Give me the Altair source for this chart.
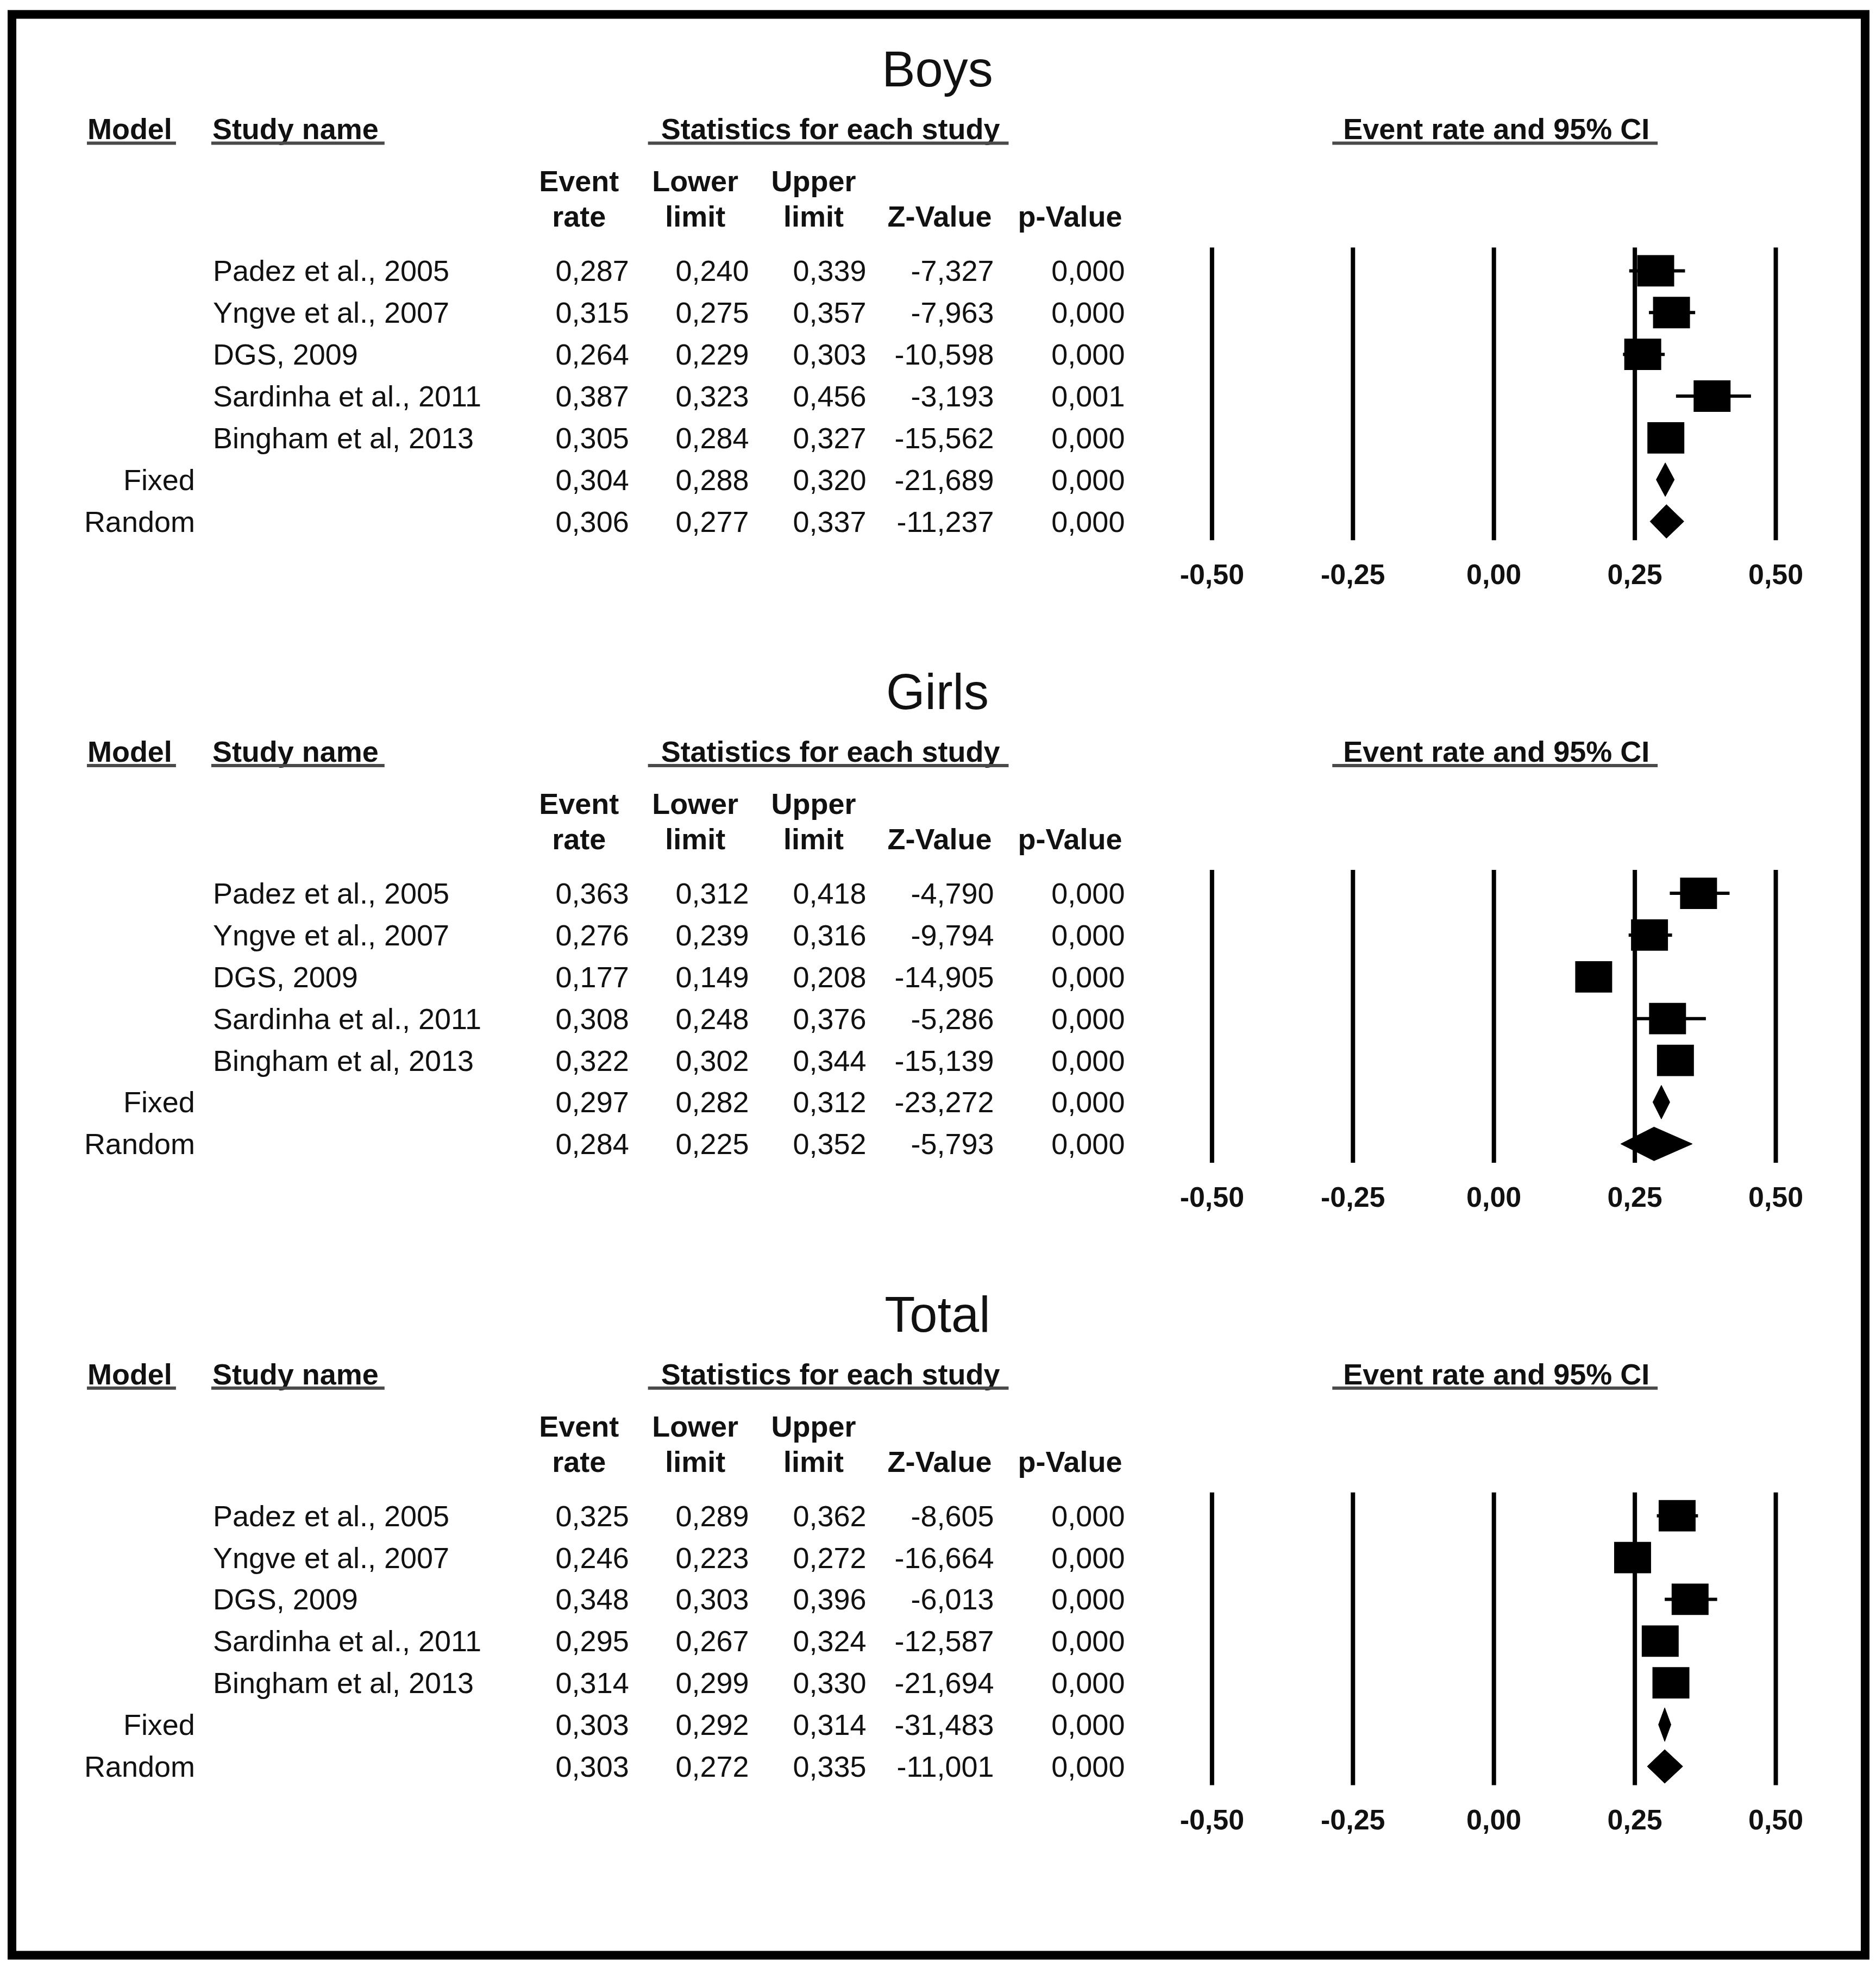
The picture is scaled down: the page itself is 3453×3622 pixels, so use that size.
import altair as alt
import pandas as pd

# ---------------- data ----------------
PANELS = ["Boys", "Girls", "Total"]
STUDIES = ["Padez et al., 2005", "Yngve et al., 2007", "DGS, 2009",
           "Sardinha et al., 2011", "Bingham et al, 2013"]
MODELS = ["Fixed", "Random"]

BOYS_ER = [0.287, 0.315, 0.264, 0.387, 0.305, 0.304, 0.306]
BOYS_LL = [0.240, 0.275, 0.229, 0.323, 0.284, 0.288, 0.277]
BOYS_UL = [0.339, 0.357, 0.303, 0.456, 0.327, 0.320, 0.337]
BOYS_Z = [-7.327, -7.963, -10.598, -3.193, -15.562, -21.689, -11.237]
BOYS_P = [0.000, 0.000, 0.000, 0.001, 0.000, 0.000, 0.000]

GIRLS_ER = [0.363, 0.276, 0.177, 0.308, 0.322, 0.297, 0.284]
GIRLS_LL = [0.312, 0.239, 0.149, 0.248, 0.302, 0.282, 0.225]
GIRLS_UL = [0.418, 0.316, 0.208, 0.376, 0.344, 0.312, 0.352]
GIRLS_Z = [-4.790, -9.794, -14.905, -5.286, -15.139, -23.272, -5.793]
GIRLS_P = [0.000, 0.000, 0.000, 0.000, 0.000, 0.000, 0.000]

TOTAL_ER = [0.325, 0.246, 0.348, 0.295, 0.314, 0.303, 0.303]
TOTAL_LL = [0.289, 0.223, 0.303, 0.267, 0.299, 0.292, 0.272]
TOTAL_UL = [0.362, 0.272, 0.396, 0.324, 0.330, 0.314, 0.335]
TOTAL_Z = [-8.605, -16.664, -6.013, -12.587, -21.694, -31.483, -11.001]
TOTAL_P = [0.000, 0.000, 0.000, 0.000, 0.000, 0.000, 0.000]

TICKS = [-0.50, -0.25, 0.00, 0.25, 0.50]

SERIES = {
    "Boys": (BOYS_ER, BOYS_LL, BOYS_UL, BOYS_Z, BOYS_P),
    "Girls": (GIRLS_ER, GIRLS_LL, GIRLS_UL, GIRLS_Z, GIRLS_P),
    "Total": (TOTAL_ER, TOTAL_LL, TOTAL_UL, TOTAL_Z, TOTAL_P),
}

# ---------------- layout ----------------
FRAME_LEFT, FRAME_TOP, FRAME_RIGHT, FRAME_BOTTOM = 22, 26, 3434, 3599
W = FRAME_RIGHT - FRAME_LEFT
H = FRAME_BOTTOM - FRAME_TOP
ROW_PX = 76.9
PANEL_PX = 1146.0
ROW1_Y = 498.0
PR = PANEL_PX / ROW_PX


def U(dy):
    return 1 + dy / ROW_PX


def X(img_x):
    return img_x - FRAME_LEFT


U_TOP = U(FRAME_TOP - ROW1_Y)
U_BOT = U(FRAME_BOTTOM - ROW1_Y)
OFF_TITLE = U(-372)
OFF_HEAD = U(-261)
OFF_LINE = U(-235)
OFF_H1 = U(-165)
OFF_H2 = U(-100)
OFF_GTOP = U(-43)
OFF_GBOT = U(496)
OFF_TICK = U(558)
DIAMOND_HALF = 31 / ROW_PX

FONT = "Liberation Sans, Arial, Helvetica, sans-serif"
FS = 54
TXT = "#111111"

xs = alt.Scale(domain=[-0.5, 0.5], range=[X(2231.5), X(3269.5)], nice=False, zero=False)
ys = alt.Scale(domain=[U_TOP, U_BOT], range=[0, H], nice=False, zero=False)


def fmt(v, d=3):
    return f"{v:.{d}f}".replace(".", ",")


# ---------------- tables ----------------
rows = []
for p, panel in enumerate(PANELS):
    er, ll, ul, z, pv = SERIES[panel]
    for i in range(7):
        rows.append(dict(
            panel=panel, u=p * PR + i + 1,
            name=STUDIES[i] if i < 5 else "",
            model=MODELS[i - 5] if i >= 5 else "",
            kind="study" if i < 5 else "summary",
            er=er[i], ll=ll[i], ul=ul[i],
            er_t=fmt(er[i]), ll_t=fmt(ll[i]), ul_t=fmt(ul[i]),
            z_t=fmt(z[i]), p_t=fmt(pv[i]), rid=f"{panel}{i}",
        ))
df = pd.DataFrame(rows)
studies_df = df[df.kind == "study"]
summ_df = df[df.kind == "summary"]

panels_df = pd.DataFrame([dict(panel=n, u_title=p * PR + OFF_TITLE, u_head=p * PR + OFF_HEAD,
                               u_line=p * PR + OFF_LINE, u_gt=p * PR + OFF_GTOP,
                               u_gb=p * PR + OFF_GBOT, u_tick=p * PR + OFF_TICK)
                          for p, n in enumerate(PANELS)])

Y = lambda f: alt.Y(f"{f}:Q", scale=ys, axis=None)
Xq = lambda f: alt.X(f"{f}:Q", scale=xs, axis=None)

layers = []

# titles
layers.append(alt.Chart(panels_df).mark_text(font=FONT, fontSize=92, align="center",
                                             baseline="middle", dy=5, color=TXT)
              .encode(x=alt.value(X(1726)), y=Y("u_title"), text="panel:N"))

# top headers
for label, ax, align in [("Model", 161, "left"), ("Study name", 391, "left"),
                         ("Statistics for each study", 1529, "center"),
                         ("Event rate and 95% CI", 2755, "center")]:
    layers.append(alt.Chart(panels_df).mark_text(text=label, font=FONT, fontSize=FS,
                                                 fontWeight="bold", align=align,
                                                 baseline="middle", dy=3, color=TXT)
                  .encode(x=alt.value(X(ax)), y=Y("u_head")))

# underlines
for a, b in [(160, 324), (389, 708), (1193, 1857), (2453, 3052)]:
    layers.append(alt.Chart(panels_df).mark_rule(color="#4a4a4a", strokeWidth=6)
                  .encode(x=alt.value(X(a)), x2=alt.value(X(b)), y=Y("u_line")))

# column headers
COLS = [("Event", "rate", 1066), ("Lower", "limit", 1280), ("Upper", "limit", 1498),
        ("", "Z-Value", 1730), ("", "p-Value", 1970)]
for l1, l2, cx in COLS:
    hd = []
    for p, n in enumerate(PANELS):
        if l1:
            hd.append(dict(u=p * PR + OFF_H1, t=l1))
        hd.append(dict(u=p * PR + OFF_H2, t=l2))
    layers.append(alt.Chart(pd.DataFrame(hd)).mark_text(font=FONT, fontSize=FS,
                                                        fontWeight="bold", align="center",
                                                        baseline="middle", dy=3, color=TXT)
                  .encode(x=alt.value(X(cx)), y=Y("u"), text="t:N"))

# study names and model labels
layers.append(alt.Chart(studies_df).mark_text(font=FONT, fontSize=FS, align="left",
                                              baseline="middle", dy=3, color=TXT)
              .encode(x=alt.value(X(392)), y=Y("u"), text="name:N"))
layers.append(alt.Chart(summ_df).mark_text(font=FONT, fontSize=FS, align="right",
                                           baseline="middle", dy=3, color=TXT)
              .encode(x=alt.value(X(359)), y=Y("u"), text="model:N"))

# numeric columns
for field, rx in [("er_t", 1158), ("ll_t", 1379), ("ul_t", 1595), ("z_t", 1830), ("p_t", 2071)]:
    layers.append(alt.Chart(df).mark_text(font=FONT, fontSize=FS, align="right",
                                          baseline="middle", dy=3, color=TXT)
                  .encode(x=alt.value(X(rx)), y=Y("u"), text=f"{field}:N"))

# forest: vertical reference lines
grid = pd.DataFrame([dict(v=t, u_gt=r.u_gt, u_gb=r.u_gb) for r in panels_df.itertuples() for t in TICKS])
layers.append(alt.Chart(grid).mark_rule(color="black", strokeWidth=8)
              .encode(x=Xq("v"), y=Y("u_gt"), y2="u_gb:Q"))

# CI whiskers
layers.append(alt.Chart(studies_df).mark_rule(color="black", strokeWidth=6)
              .encode(x=Xq("ll"), x2="ul:Q", y=Y("u")))

# squares
SQUARE = "M-1,-0.85L1,-0.85L1,0.85L-1,0.85Z"
layers.append(alt.Chart(studies_df).mark_point(shape=SQUARE, filled=True, size=68 * 68,
                                               color="black", opacity=1, strokeWidth=0)
              .encode(x=Xq("er"), y=Y("u")))

# diamonds (summary rows): polygon lower -> estimate -> upper, fixed half height
dia = []
for r in summ_df.itertuples():
    dia.append(dict(did=r.rid, pos=r.ll, top=r.u, bot=r.u))
    dia.append(dict(did=r.rid, pos=r.er, top=r.u - DIAMOND_HALF, bot=r.u + DIAMOND_HALF))
    dia.append(dict(did=r.rid, pos=r.ul, top=r.u, bot=r.u))
layers.append(alt.Chart(pd.DataFrame(dia)).mark_area(color="black", fillOpacity=1,
                                                     stroke="black", strokeWidth=1)
              .encode(x=Xq("pos"), y=alt.Y("top:Q", scale=ys, axis=None, stack=None),
                      y2="bot:Q", detail="did:N"))

# tick labels
tk = pd.DataFrame([dict(v=t, u=r.u_tick, t=fmt(t, 2))
                   for r in panels_df.itertuples() for t in TICKS])
layers.append(alt.Chart(tk).mark_text(font=FONT, fontSize=52, fontWeight="bold", align="center",
                                      baseline="middle", dy=3, color=TXT)
              .encode(x=Xq("v"), y=Y("u"), text="t:N"))

chart = alt.layer(*layers).properties(
    width=W, height=H,
    padding={"left": FRAME_LEFT - 8, "top": FRAME_TOP - 8, "right": 12, "bottom": 12},
    autosize=alt.AutoSizeParams(type="none"),
    background="white",
).configure_view(stroke="black", strokeWidth=16)

chart.save("out.html", embed_options={"renderer": "svg", "actions": False})
